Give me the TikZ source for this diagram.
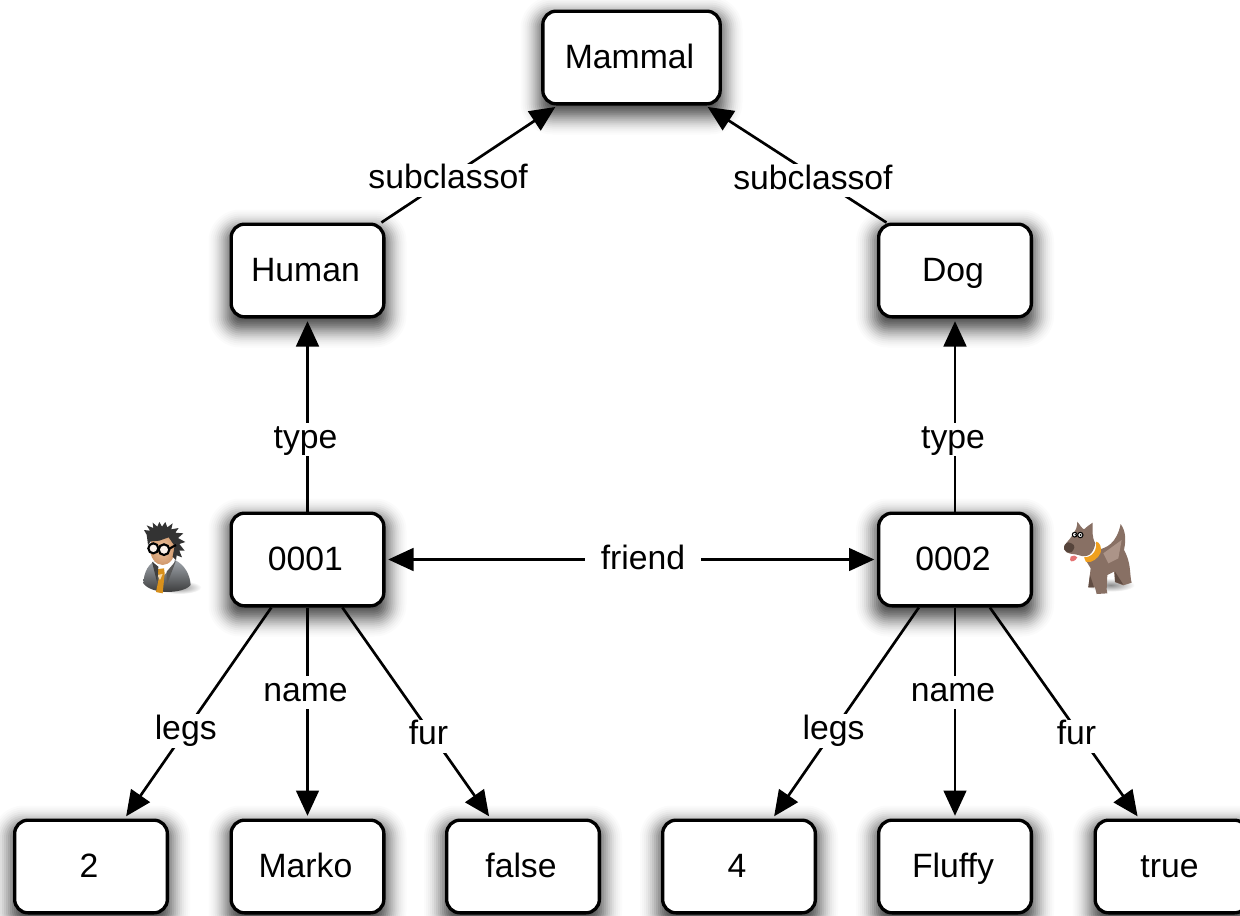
\documentclass[tikz,border=0pt]{standalone}
\usepackage{fontspec}
\setmainfont{Liberation Sans}
\usetikzlibrary{arrows.meta,calc}
\definecolor{dogbrown}{RGB}{136,112,100}
\definecolor{dogdark}{RGB}{96,76,66}
\definecolor{doglight}{RGB}{172,148,136}
\definecolor{collar}{RGB}{240,160,30}
\definecolor{suit}{RGB}{84,94,106}
\definecolor{skin}{RGB}{232,170,120}
\tikzset{
  box/.style={draw=black,fill=white,line width=2.5pt,rounded corners=10pt,
    minimum width=114.5pt,minimum height=69.5pt,inner sep=0pt,
    font=\fontsize{25.3}{30}\selectfont,text height=18pt,text depth=2pt,
    execute at begin node=\hspace*{-3pt}},
  wide/.style={minimum width=133pt},
  edgeline/.style={line width=2pt,draw=black,shorten >=2pt,-{Triangle[length=19pt,width=17pt]}},
  bothways/.style={line width=2pt,draw=black,shorten >=2pt,shorten <=2pt,
    {Triangle[length=19pt,width=17pt]}-{Triangle[length=19pt,width=17pt]}},
  lab/.style={fill=white,inner xsep=12pt,inner ysep=1pt,font=\fontsize{25.3}{30}\selectfont,
    text height=18pt,text depth=5pt,xshift=-1.5pt,yshift=-2.5pt}
}
\newcommand{\boxshadow}[4]{%
  \foreach \e/\o in {22/.015,20/.02,18/.025,16/.03,14/.04,12/.05,10/.06,8/.07,6/.08,4/.09,2/.1,0/.1,-2/.1,-4/.1,-6/.1}{
    \fill[black,opacity=\o,rounded corners={(10+\e)*0.75pt}]
      ({#1-#3-\e},{#2-#4-\e+8}) rectangle ({#1+#3+\e},{#2+#4+\e+8});
  }}
\begin{document}
\begin{tikzpicture}[x=0.75pt,y=-0.75pt]
\useasboundingbox (0,0) rectangle (1240,915);
\clip (0,0) rectangle (1240,915);
\fill[white] (0,0) rectangle (1240,915);
% shadows
\boxshadow{631.5}{57.5}{89}{47}
\boxshadow{307.5}{270.5}{77}{47}
\boxshadow{955}{270.5}{77}{47}
\boxshadow{307.5}{559.5}{77}{47}
\boxshadow{955}{559.5}{77}{47}
\boxshadow{91}{866.5}{77}{47}
\boxshadow{307.5}{866.5}{77}{47}
\boxshadow{523}{866.5}{77}{47}
\boxshadow{739}{866.5}{77}{47}
\boxshadow{955}{866.5}{77}{47}
\boxshadow{1171.5}{866.5}{77}{47}
% boxes
\node[box,wide] (mammal) at (631.5,57.5) {Mammal};
\node[box] (human) at (307.5,270.5) {Human};
\node[box] (dog) at (955,270.5) {Dog};
\node[box] (m1) at (307.5,559.5) {0001};
\node[box] (d2) at (955,559.5) {0002};
\node[box] (two) at (91,866.5) {2};
\node[box] (marko) at (307.5,866.5) {Marko};
\node[box] (false) at (523,866.5) {false};
\node[box] (four) at (739,866.5) {4};
\node[box] (fluffy) at (955,866.5) {Fluffy};
\node[box] (true) at (1171.5,866.5) {true};
% connectors
\draw[edgeline] (human.33.8) -- node[lab,pos=.39]{subclassof} (mammal.213.5);
\draw[edgeline] (dog.145) -- node[lab,pos=.417,yshift=-2.5pt,xshift=3pt]{subclassof} (mammal.-33.5);
\draw[edgeline] (m1.north) -- node[lab,pos=.39]{type} (human.south);
\draw[edgeline] (d2.north) -- node[lab,pos=.39]{type} (dog.south);
\draw[bothways] (m1.east) -- node[lab,pos=.524,xshift=1.5pt,yshift=1.5pt]{friend} (d2.west);
\draw[edgeline] (m1.233.9) -- node[lab,pos=.57]{legs} (two.55.5);
\draw[edgeline] (m1.south) -- node[lab,pos=.387]{name} (marko.north);
\draw[edgeline] (m1.306.1) -- node[lab,pos=.594]{fur} (false.124.5);
\draw[edgeline] (d2.233.9) -- node[lab,pos=.57]{legs} (four.55.5);
\draw[edgeline] (d2.south) -- node[lab,pos=.387]{name} (fluffy.north);
\draw[edgeline] (d2.306.1) -- node[lab,pos=.594]{fur} (true.124.5);
% man icon
\begin{scope}[shift={(120,500)},scale=1/3]
  \shade[inner color=black!45,outer color=white] (178,262) ellipse (66 and 20);
  \path[top color=suit!55!white,bottom color=black!80,draw=none]
    (70,250) .. controls (72,215) and (85,190) .. (112,180)
    -- (165,180) .. controls (195,195) and (210,225) .. (212,255)
    .. controls (190,282) and (95,285) .. (70,250) -- cycle;
  \fill[white] (100,186) -- (125,178) -- (165,176) -- (160,195) -- (130,228) -- cycle;
  \fill[collar!90!black] (108,208) -- (132,205) -- (134,220) -- (128,280) -- (108,276) -- (118,228) -- cycle;
  \fill[collar!40!white] (112,225) -- (128,222) -- (120,240) -- cycle;
  \fill[black!75] (96,185) -- (112,250) -- (115,200) -- cycle;
  \fill[black!65] (168,182) -- (140,255) -- (140,215) -- cycle;
  \shade[inner color=skin!70!white,outer color=skin!90!black] (128,145) ellipse (38 and 50);
  \fill[black!80] (80,104) -- (72,90) -- (90,92) -- (80,76) -- (100,84) -- (98,68) -- (112,80) -- (118,66) -- (126,80) -- (136,66)
    -- (142,82) -- (158,70) -- (154,88) -- (176,84) -- (166,98) -- (190,100) -- (174,114) -- (196,126) -- (178,132) -- (194,152) -- (178,152) -- (186,172) -- (170,166) -- (168,180) -- (158,170)
    -- (164,138) -- (146,112) -- (118,122) -- (92,124) -- (84,135) -- (82,118) -- cycle;
  \filldraw[fill=white!85!skin,draw=black,line width=1.6pt] (100,145) circle (15);
  \filldraw[fill=white!85!skin,draw=black,line width=1.6pt] (132,149) circle (16);
  \draw[black,line width=1.6pt] (148,146) -- (168,135);
\end{scope}
% dog icon
\begin{scope}[shift={(870,500)},scale=1/3]
  \shade[inner color=black!45,outer color=white] (722,255) ellipse (72 and 20);
  \path[fill=dogbrown]
    (680,150) .. controls (710,145) and (740,130) .. (752,72)
    .. controls (768,95) and (768,120) .. (762,150)
    .. controls (785,190) and (778,225) .. (785,248) -- (760,256) -- (735,246)
    -- (732,215) -- (712,225) -- (710,268) -- (712,280) -- (680,282)
    -- (675,262) -- (655,262) -- (662,205) -- (650,185) -- cycle;
  \fill[doglight] (700,160) -- (755,120) -- (745,175) -- (715,190) -- cycle;
  \fill[dogdark] (660,225) -- (672,262) -- (655,262) -- cycle;
  \fill[dogdark] (735,215) -- (760,254) -- (735,246) -- cycle;
  \path[fill=dogbrown]
    (622,65) .. controls (630,75) and (635,85) .. (642,88)
    .. controls (650,80) and (658,75) .. (668,68)
    .. controls (668,95) and (665,110) .. (676,130)
    .. controls (670,165) and (650,175) .. (625,165)
    .. controls (610,160) and (590,165) .. (582,148)
    .. controls (580,130) and (598,125) .. (610,100)
    .. controls (618,90) and (622,80) .. (622,65) -- cycle;
  \fill[dogdark!90!black] (595,127) .. controls (610,130) and (618,138) .. (610,150)
    .. controls (605,162) and (590,160) .. (583,148) .. controls (580,138) and (585,130) .. (595,127) -- cycle;
  \filldraw[fill=white,draw=black,line width=.8pt] (614,104) circle (7);
  \filldraw[fill=white,draw=black,line width=.8pt] (631,105) circle (8);
  \fill[black] (616,104) circle (2.5);
  \fill[black] (632,105) circle (3);
  \fill[red!50!white!90!black] (602,170) .. controls (608,165) and (618,165) .. (622,172)
    .. controls (616,184) and (604,188) .. (600,180) -- cycle;
  \fill[collar] (642,172) .. controls (668,172) and (682,150) .. (678,125)
    .. controls (690,125) and (696,145) .. (692,158)
    .. controls (685,175) and (665,190) .. (648,186) -- cycle;
\end{scope}
\end{tikzpicture}
\end{document}
